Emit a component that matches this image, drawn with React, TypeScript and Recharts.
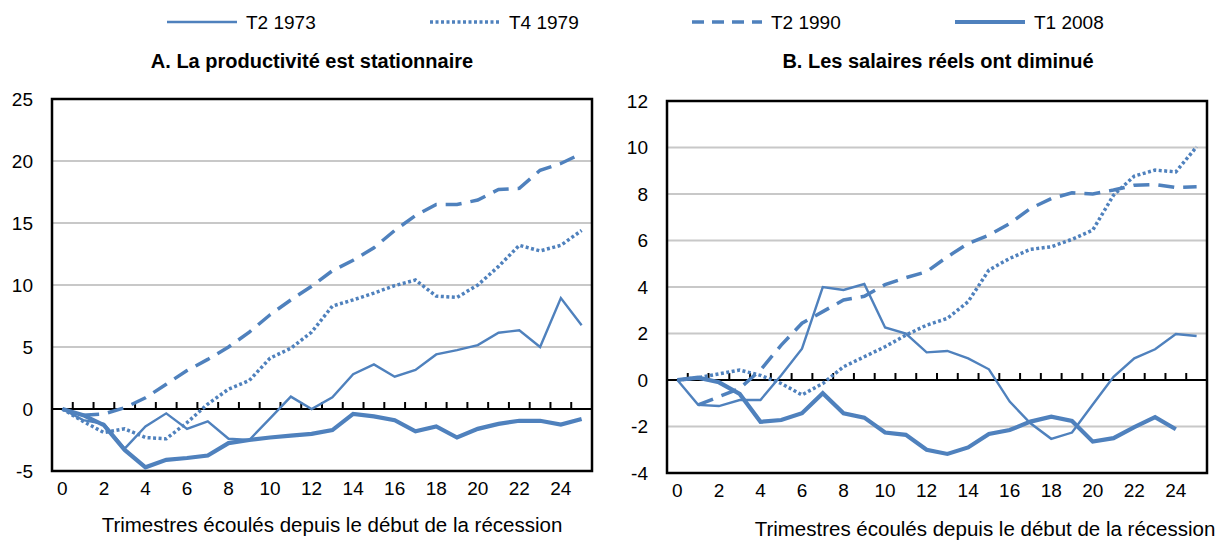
import React from 'react'
import { CartesianGrid, Line, LineChart, ReferenceArea, ReferenceLine, XAxis, YAxis } from 'recharts'

const quarters = [0, 1, 2, 3, 4, 5, 6, 7, 8, 9, 10, 11, 12, 13, 14, 15, 16, 17, 18, 19, 20, 21, 22, 23, 24, 25]
const xTicks = [0, 2, 4, 6, 8, 10, 12, 14, 16, 18, 20, 22, 24]

// Panel A: productivité
const prodT2_1973 = [0, -0.9, -1.2, -3.2, -1.4, -0.35, -1.6, -1.0, -2.4, -2.5, -0.75, 1.0, 0, 0.95, 2.8, 3.6, 2.6, 3.15, 4.4, 4.75, 5.15, 6.15, 6.35, 5.0, 8.95, 6.75]
const prodT4_1979 = [0, -1.0, -1.9, -1.6, -2.3, -2.4, -1.1, 0.4, 1.6, 2.3, 4.1, 4.9, 6.2, 8.3, 8.8, 9.35, 9.95, 10.4, 9.1, 9.0, 10.0, 11.5, 13.2, 12.75, 13.2, 14.4]
const prodT2_1990 = [null, -0.5, -0.4, 0.1, 0.9, 2.0, 3.1, 4.0, 5.0, 6.2, 7.6, 8.8, 9.9, 11.15, 12.0, 13.0, 14.4, 15.6, 16.5, 16.5, 16.85, 17.7, 17.8, 19.25, 19.8, 20.6]
const prodT1_2008 = [0, -0.5, -1.3, -3.3, -4.7, -4.1, -3.95, -3.75, -2.75, -2.5, -2.3, -2.15, -2.0, -1.7, -0.4, -0.6, -0.9, -1.8, -1.4, -2.3, -1.6, -1.2, -0.95, -0.95, -1.25, -0.8]
const prodTicks = [-5, 0, 5, 10, 15, 20, 25]

// Panel B: salaires réels
const salT2_1973 = [0, -1.07, -1.12, -0.86, -0.86, 0.2, 1.35, 4.0, 3.87, 4.13, 2.26, 2.0, 1.19, 1.25, 0.93, 0.46, -0.93, -1.86, -2.53, -2.26, -1.05, 0.14, 0.93, 1.32, 1.98, 1.89]
const salT4_1979 = [0, 0.1, 0.26, 0.43, 0.2, -0.15, -0.64, -0.15, 0.57, 1.0, 1.43, 1.93, 2.36, 2.65, 3.37, 4.73, 5.23, 5.62, 5.73, 6.05, 6.45, 7.95, 8.77, 9.03, 8.95, 10.03]
const salT2_1990 = [null, -1.07, -0.72, -0.36, 0.43, 1.5, 2.44, 2.94, 3.44, 3.6, 4.1, 4.4, 4.66, 5.3, 5.87, 6.23, 6.73, 7.38, 7.8, 8.05, 8.0, 8.17, 8.38, 8.41, 8.28, 8.31]
const salT1_2008 = [0, 0.1, -0.1, -0.6, -1.8, -1.72, -1.43, -0.57, -1.43, -1.62, -2.26, -2.36, -3.0, -3.18, -2.9, -2.32, -2.15, -1.79, -1.58, -1.76, -2.65, -2.5, -2.03, -1.6, -2.12, null]
const salTicks = [-4, -2, 0, 2, 4, 6, 8, 10, 12]

const BLUE = '#4f81bd'
const FONT = '"Liberation Sans", Arial, sans-serif'
const PLOT_H = 372

type PanelProps = {
  a: (number | null)[]
  b: (number | null)[]
  c: (number | null)[]
  d: (number | null)[]
  ticks: number[]
  top: number
}

function Panel({ a, b, c, d, ticks, top }: PanelProps) {
  const data = quarters.map((q, i) => ({ q, a: a[i], b: b[i], c: c[i], d: d[i] }))
  const lo = ticks[0]
  const hi = ticks[ticks.length - 1]
  // upward tick marks on the zero line, 7px long
  const tickLen = ((hi - lo) * 7) / PLOT_H
  return (
    <LineChart width={600} height={top + PLOT_H + 67} data={data} margin={{ top, right: 8, left: 0, bottom: 0 }}>
      <CartesianGrid vertical={false} stroke="#c8c8c8" strokeWidth={2} />
      <XAxis
        dataKey="q"
        type="number"
        domain={[-0.5, 25.5]}
        ticks={xTicks}
        interval={0}
        height={67}
        tickSize={0}
        tickMargin={11}
        axisLine={false}
        tickLine={false}
        tick={{ fontSize: 19, fill: '#000', fontFamily: FONT }}
      />
      <YAxis
        type="number"
        domain={[lo, hi]}
        ticks={ticks}
        interval={0}
        width={52}
        tickSize={0}
        tickMargin={19}
        axisLine={false}
        tickLine={false}
        tick={{ fontSize: 19, fill: '#000', fontFamily: FONT }}
      />
      <ReferenceLine y={0} stroke="#000" strokeWidth={2} />
      {quarters.slice(0, 25).map((q) => (
        <ReferenceLine
          key={q}
          segment={[{ x: q + 0.5, y: 0 }, { x: q + 0.5, y: tickLen }]}
          stroke="#000"
          strokeWidth={2}
        />
      ))}
      <Line dataKey="a" stroke={BLUE} strokeWidth={2.4} dot={false} isAnimationActive={false} />
      <Line dataKey="b" stroke={BLUE} strokeWidth={3.5} strokeDasharray="3 2.5" dot={false} isAnimationActive={false} />
      <Line dataKey="c" stroke={BLUE} strokeWidth={3.5} strokeDasharray="16 9" dot={false} isAnimationActive={false} />
      <Line dataKey="d" stroke={BLUE} strokeWidth={4.2} dot={false} isAnimationActive={false} />
      <ReferenceArea x1={-0.5} x2={25.5} y1={lo} y2={hi} fill="none" stroke="#000" strokeWidth={2.5} ifOverflow="visible" />
    </LineChart>
  )
}

const legendItems = [
  { name: 'T2 1973', x: 167, width: 2.4, dash: undefined },
  { name: 'T4 1979', x: 430, width: 3.5, dash: '3 2.5' },
  { name: 'T2 1990', x: 692, width: 3.5, dash: '12 8' },
  { name: 'T1 2008', x: 955, width: 4.2, dash: undefined },
]

export default function App() {
  return (
    <div style={{ position: 'absolute', left: 0, top: 0, width: 1219, height: 540, background: '#fff', fontFamily: FONT }}>
      <svg width={1219} height={45} style={{ position: 'absolute', left: 0, top: 0 }}>
        {legendItems.map((it) => (
          <g key={it.name}>
            <line x1={it.x} x2={it.x + 70} y1={22} y2={22} stroke={BLUE} strokeWidth={it.width} strokeDasharray={it.dash} />
            <text x={it.x + 79} y={29} fontSize={19} fontFamily={FONT} fill="#000">
              {it.name}
            </text>
          </g>
        ))}
      </svg>
      <div style={{ position: 'absolute', left: 112, width: 400, top: 50, textAlign: 'center', fontSize: 20, fontWeight: 'bold' }}>
        A. La productivité est stationnaire
      </div>
      <div style={{ position: 'absolute', left: 738, width: 400, top: 50, textAlign: 'center', fontSize: 20, fontWeight: 'bold' }}>
        B. Les salaires réels ont diminué
      </div>
      <div style={{ position: 'absolute', left: 0, top: 0 }}>
        <Panel a={prodT2_1973} b={prodT4_1979} c={prodT2_1990} d={prodT1_2008} ticks={prodTicks} top={99} />
      </div>
      <div style={{ position: 'absolute', left: 615, top: 0 }}>
        <Panel a={salT2_1973} b={salT4_1979} c={salT2_1990} d={salT1_2008} ticks={salTicks} top={101} />
      </div>
      <div style={{ position: 'absolute', left: 82, width: 500, top: 513, textAlign: 'center', fontSize: 20.5 }}>
        Trimestres écoulés depuis le début de la récession
      </div>
      <div style={{ position: 'absolute', left: 735, width: 500, top: 517, textAlign: 'center', fontSize: 20.5 }}>
        Trimestres écoulés depuis le début de la récession
      </div>
    </div>
  )
}
